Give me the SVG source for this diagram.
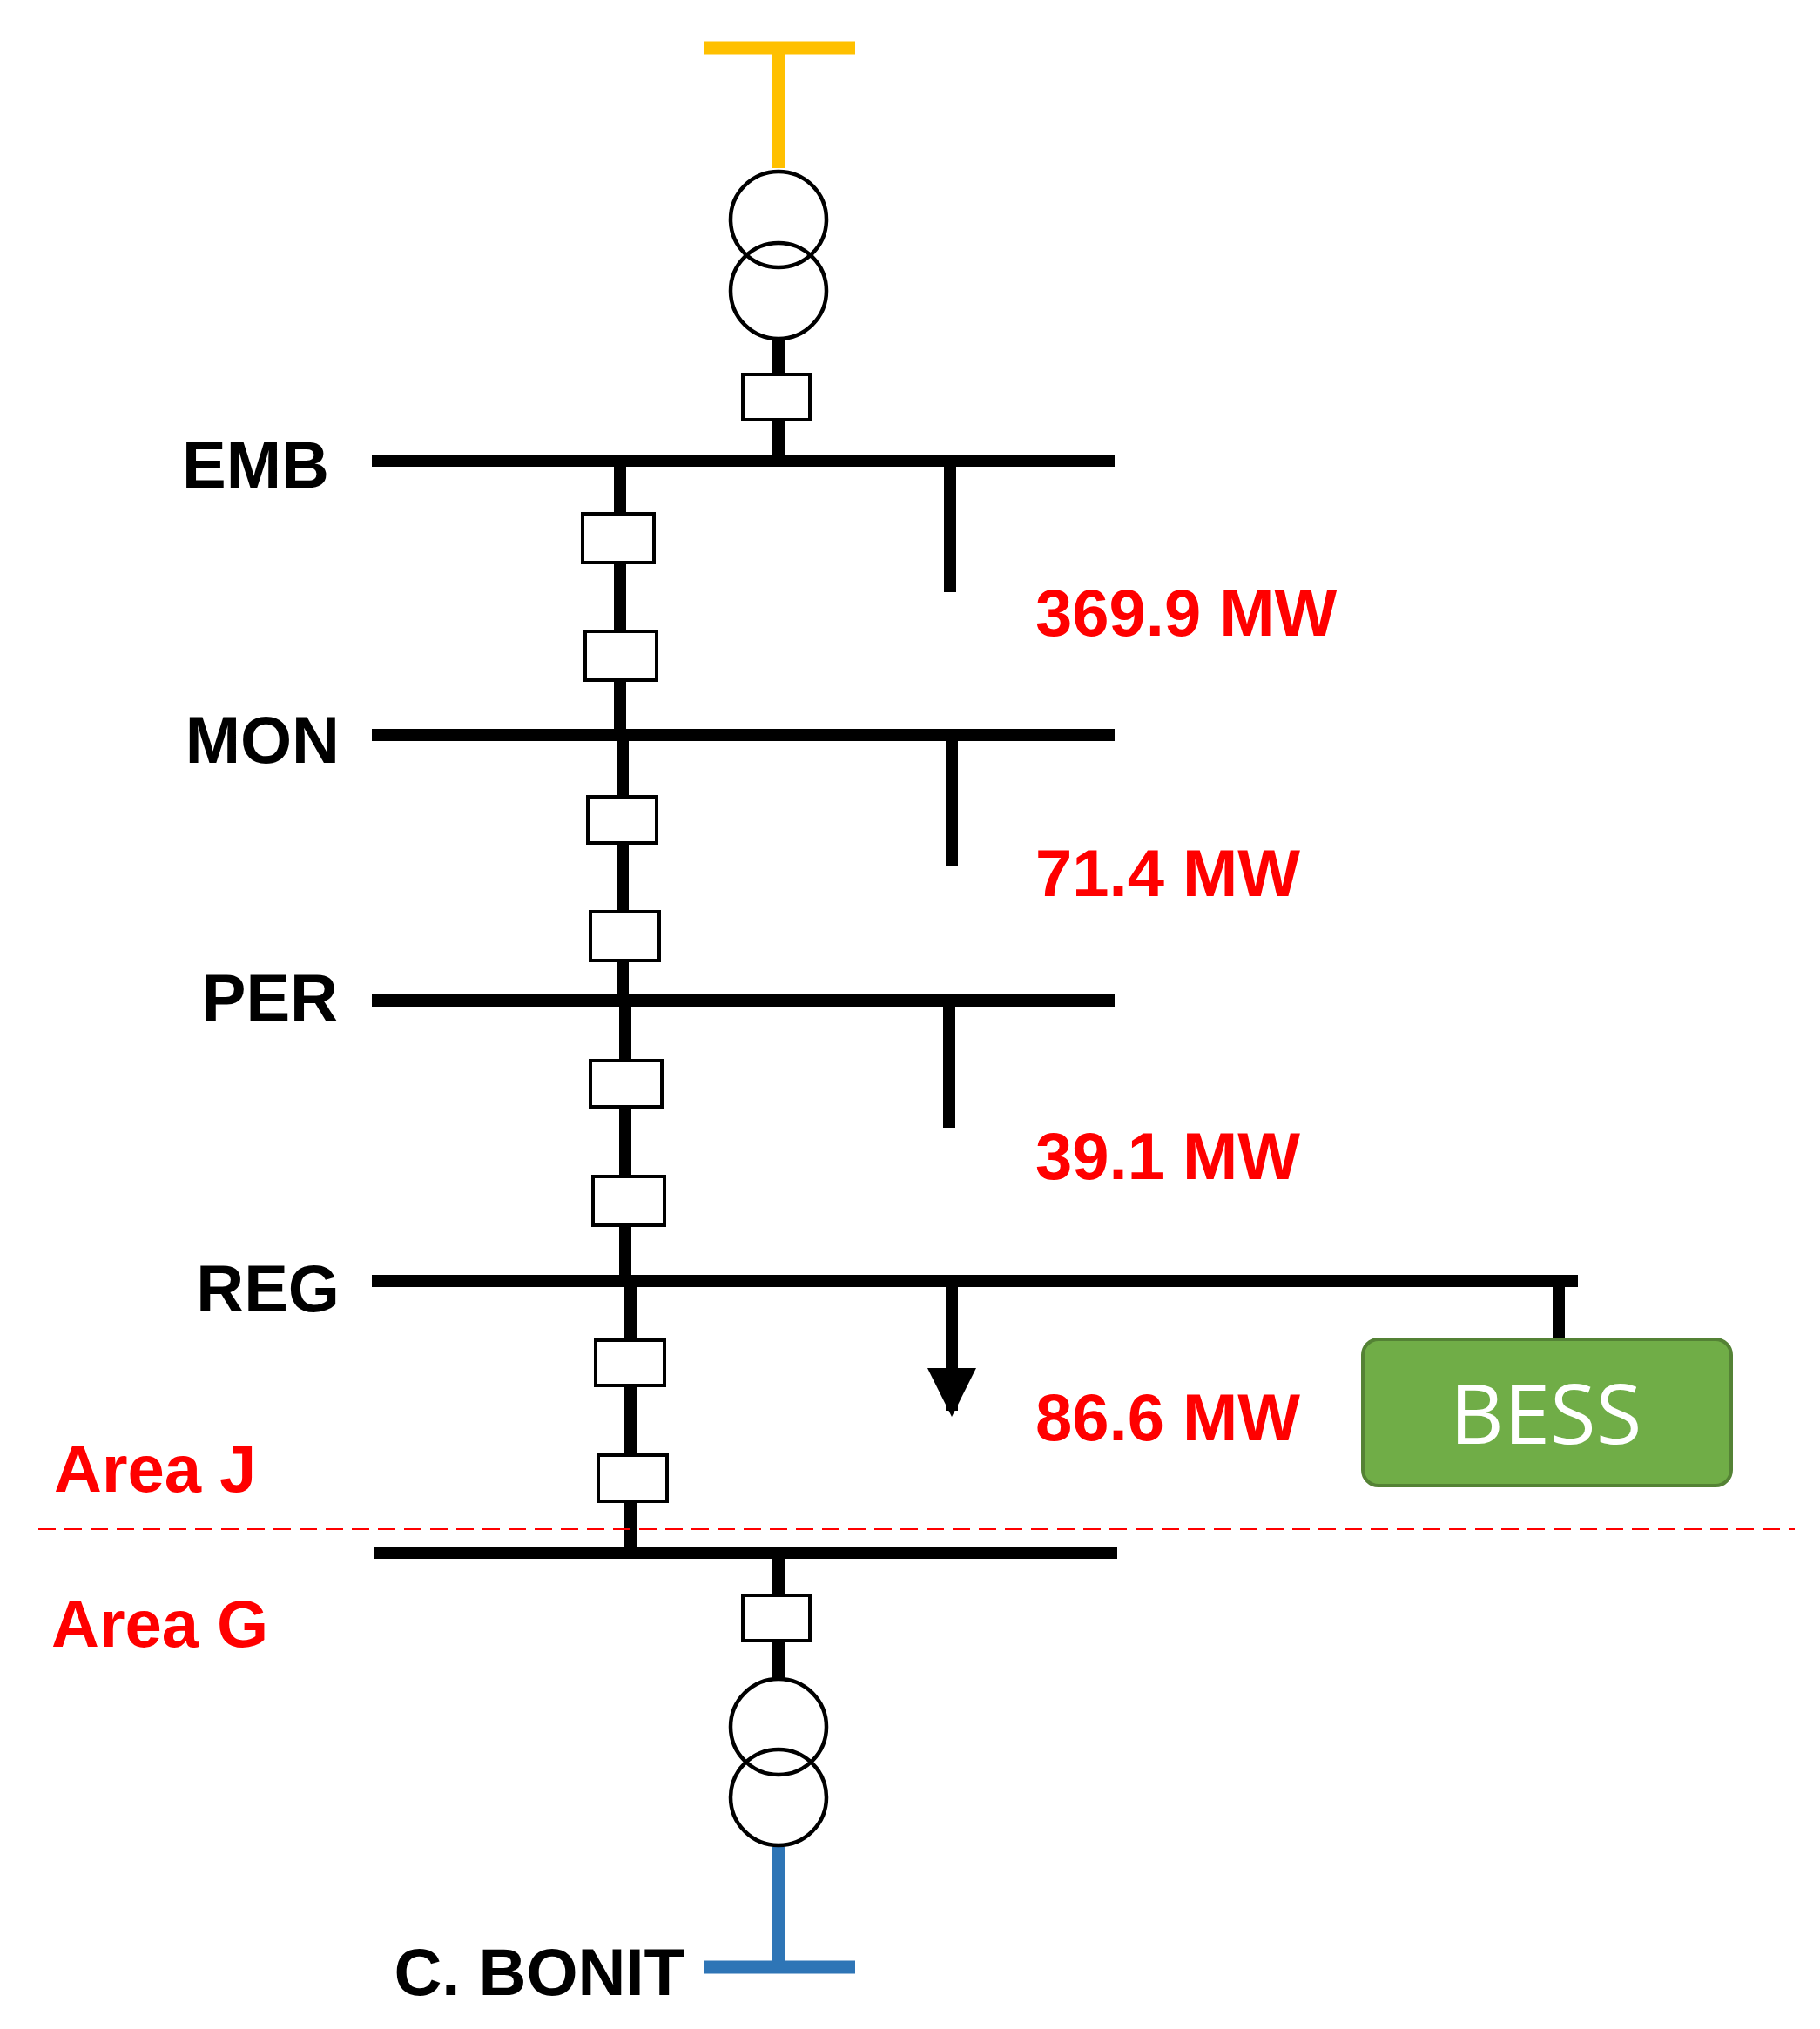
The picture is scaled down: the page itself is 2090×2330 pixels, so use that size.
<svg xmlns="http://www.w3.org/2000/svg" width="2090" height="2330" viewBox="0 0 2090 2330">
<style>
.w{stroke:#000;stroke-width:14;fill:none}
.bx{fill:#fff;stroke:#000;stroke-width:4}
.tr{fill:none;stroke:#000;stroke-width:4.5}
.lb{font-family:"Liberation Sans",Arial,sans-serif;font-weight:bold;font-size:76px;fill:#000}
.mw{font-family:"Liberation Sans",Arial,sans-serif;font-weight:bold;font-size:76px;fill:#FF0000}
</style>
<defs><marker id="ah" markerWidth="4" markerHeight="4" refX="3.5" refY="2" orient="auto" markerUnits="strokeWidth"><path d="M0,0 L4,2 L0,4 Z" fill="#000"/></marker></defs>
<rect width="2090" height="2330" fill="#fff"/>
<g id="connectors">
<path d="M808,55 H982 M894,55 V193" stroke="#FFC000" stroke-width="15" fill="none"/>
<path class="w" d="M894,389 V430 M894,482 V529"/>
<path class="w" d="M712,529 V844 M715,844 V1149 M718,1149 V1471 M724,1471 V1783"/>
<path class="w" d="M1091,529 V680 M1093,844 V995 M1090,1149 V1295 M1093,1471 V1620" marker-end="url(#ah)"/>
<path class="w" d="M1790,1471 V1542"/>
<path class="w" d="M894,1783 V1832 M894,1884 V1928"/>
<path d="M894,2121 V2259 M808,2259 H982" stroke="#2E75B6" stroke-width="15" fill="none"/>
<line x1="44" y1="1756" x2="2061" y2="1756" stroke="#FF0000" stroke-width="2" stroke-dasharray="20,10"/>
</g>
<g id="bus-EMB"><line class="w" x1="427" y1="529" x2="1280" y2="529"/><text class="lb" x="378" y="560" text-anchor="end">EMB</text></g>
<g id="bus-MON"><line class="w" x1="427" y1="844" x2="1280" y2="844"/><text class="lb" x="390" y="876" text-anchor="end">MON</text></g>
<g id="bus-PER"><line class="w" x1="427" y1="1149" x2="1280" y2="1149"/><text class="lb" x="388" y="1172" text-anchor="end">PER</text></g>
<g id="bus-REG"><line class="w" x1="427" y1="1471" x2="1812" y2="1471"/><text class="lb" x="390" y="1506" text-anchor="end">REG</text></g>
<g id="bus-bottom"><line class="w" x1="430" y1="1783" x2="1283" y2="1783"/></g>
<g id="top-transformer"><circle class="tr" cx="894" cy="252" r="55"/><circle class="tr" cx="894" cy="334" r="55"/><rect class="bx" x="853" y="430" width="77" height="52"/></g>
<g id="breakers">
<rect class="bx" x="669" y="590" width="82" height="56"/>
<rect class="bx" x="672" y="725" width="82" height="56"/>
<rect class="bx" x="675" y="915" width="79" height="53"/>
<rect class="bx" x="678" y="1047" width="79" height="56"/>
<rect class="bx" x="678" y="1218" width="82" height="53"/>
<rect class="bx" x="681" y="1351" width="82" height="56"/>
<rect class="bx" x="684" y="1539" width="79" height="52"/>
<rect class="bx" x="687" y="1671" width="79" height="53"/>
</g>
<g id="loads">
<text class="mw" x="1189" y="730">369.9 MW</text>
<text class="mw" x="1189" y="1029">71.4 MW</text>
<text class="mw" x="1189" y="1354">39.1 MW</text>
<text class="mw" x="1189" y="1654">86.6 MW</text>
</g>
<g id="BESS"><rect x="1565" y="1538" width="423" height="168" rx="18" fill="#70AD47" stroke="#548235" stroke-width="4"/><text x="1775" y="1658" text-anchor="middle" font-family="'Open Sans','Liberation Sans',sans-serif" font-size="96" fill="#fff">BESS</text></g>
<g id="areas"><text class="mw" x="62" y="1713" font-size="72">Area J</text><text class="mw" x="59" y="1891">Area G</text></g>
<g id="bottom-transformer"><rect class="bx" x="853" y="1832" width="77" height="52"/><circle class="tr" cx="894" cy="1983" r="55"/><circle class="tr" cx="894" cy="2064" r="55"/><text class="lb" x="786" y="2291" text-anchor="end">C. BONIT</text></g>
</svg>
